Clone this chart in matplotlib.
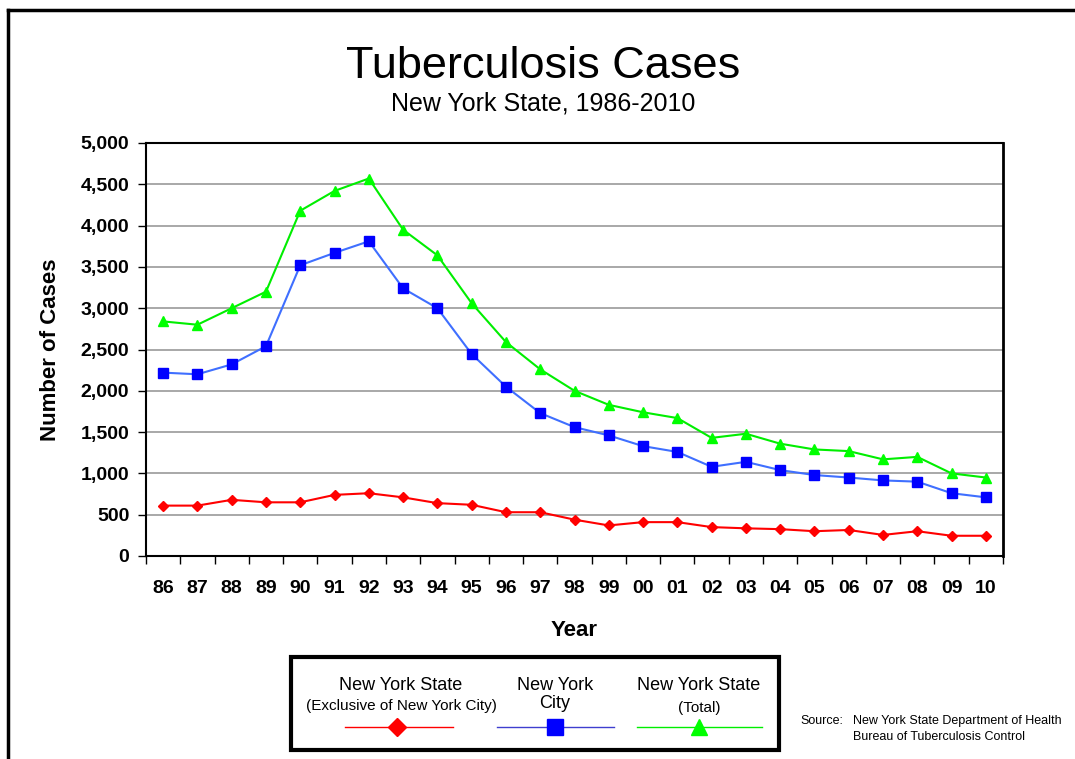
import numpy as np
import matplotlib
matplotlib.use('Agg')
import matplotlib.pyplot as plt
from matplotlib.lines import Line2D
from matplotlib.patches import Rectangle
from matplotlib.ticker import FuncFormatter

plt.rcParams['font.family'] = ['Liberation Sans', 'DejaVu Sans']

# Dados
anos = ['86', '87', '88', '89', '90', '91', '92', '93', '94', '95', '96', '97', '98',
        '99', '00', '01', '02', '03', '04', '05', '06', '07', '08', '09', '10']
nys_excl = [610, 610, 680, 650, 650, 740, 760, 710, 640, 620, 530, 530, 440,
            370, 410, 410, 350, 335, 325, 300, 315, 255, 300, 245, 245]
nyc = [2220, 2200, 2320, 2540, 3520, 3670, 3810, 3240, 3000, 2445, 2050, 1730, 1560,
       1460, 1330, 1260, 1080, 1140, 1040, 980, 950, 915, 900, 760, 710]
nys_total = [2840, 2800, 3000, 3200, 4180, 4420, 4570, 3950, 3640, 3060, 2590, 2260, 2000,
             1830, 1740, 1670, 1430, 1480, 1360, 1290, 1270, 1170, 1200, 1000, 950]

x = np.arange(len(anos))

fig = plt.figure(figsize=(10.75, 7.59), dpi=100)
ax = fig.add_axes([146 / 1075, 1 - 556 / 759, 857 / 1075, 413 / 759])

ax.plot(x, nys_excl, color='#FF0000', lw=1.5, marker='D', ms=5.5,
        mfc='#FF0000', mec='#FF0000', zorder=3)
ax.plot(x, nyc, color='#3F6FFF', lw=1.5, marker='s', ms=7.5,
        mfc='#0000FF', mec='#0000FF', zorder=3)
ax.plot(x, nys_total, color='#00EE00', lw=1.5, marker='^', ms=7.5,
        mfc='#00FF00', mec='#00FF00', zorder=3)

ax.set_xlim(-0.5, len(anos) - 0.5)
ax.set_ylim(0, 5000)
ax.set_yticks(np.arange(0, 5001, 500))
ax.yaxis.set_major_formatter(FuncFormatter(lambda v, p: f'{int(v):,}'))
ax.grid(axis='y', color='#999999', lw=1.2)
ax.set_axisbelow(True)

# ticks nas fronteiras das categorias, rótulos no centro
ax.set_xticks(np.arange(-0.5, len(anos), 1))
ax.set_xticklabels([])
ax.set_xticks(x, minor=True)
ax.set_xticklabels(anos, minor=True)
ax.tick_params(axis='x', which='major', length=6, width=1, direction='out')
ax.tick_params(axis='x', which='minor', length=0, pad=17, labelsize=14)
ax.tick_params(axis='y', length=6, width=1, direction='out', labelsize=14, pad=6)
for lab in ax.get_xticklabels(minor=True) + ax.get_yticklabels():
    lab.set_fontweight('bold')

for s in ax.spines.values():
    s.set_linewidth(1.5)
    s.set_color('black')
ax.spines['right'].set_linewidth(2)

ax.set_ylabel('Number of Cases', fontsize=16, fontweight='bold', labelpad=14)
ax.set_xlabel('Year', fontsize=16, fontweight='bold', labelpad=17)

fig.text(0.5055, 1 - 67 / 759, 'Tuberculosis Cases', ha='center', va='center', fontsize=32.5)
fig.text(0.5055, 1 - 104 / 759, 'New York State, 1986-2010', ha='center', va='center', fontsize=18)

# moldura externa
fig.add_artist(Line2D([8 / 1075, 8 / 1075], [0, 1 - 10 / 759], color='black', lw=2.5))
fig.add_artist(Line2D([8 / 1075, 1], [1 - 10 / 759, 1 - 10 / 759], color='black', lw=2.5))

# legenda desenhada à mão
fig.add_artist(Rectangle((291 / 1075, 1 - 750 / 759), 488 / 1075, 93 / 759,
                         transform=fig.transFigure, fill=False, ec='black', lw=3))

def px(xp, yp):
    return xp / 1075, 1 - yp / 759

entradas = [
    (401, 345, 453, '#FF0000', '#FF0000', 'D', 9, 'New York State', '(Exclusive of New York City)', 685, 706, 11),
    (555, 497, 614, '#3F3FCF', '#0000FF', 's', 11, 'New York', 'City', 685, 703, 13),
    (699, 637, 762, '#00EE00', '#00FF00', '^', 11, 'New York State', '(Total)', 686, 708, 11),
]
for cx, x0, x1, lc, mc, mk, ms, t1, t2, y1, y2, fs2 in entradas:
    xa, ya = px(x0, 727)
    xb, _ = px(x1, 727)
    fig.add_artist(Line2D([xa, xb], [ya, ya], color=lc, lw=1))
    xm, _ = px(cx - 4 if mk == 'D' else cx, 727)
    fig.add_artist(Line2D([xm], [ya], marker=mk, ms=ms, color=mc, mec=mc))
    fig.text(*px(cx, y1), t1, ha='center', va='center', fontsize=13)
    fig.text(*px(cx, y2), t2, ha='center', va='center', fontsize=fs2)

fig.text(*px(800, 721), 'Source:', ha='left', va='center', fontsize=9)
fig.text(*px(853, 721), 'New York State Department of Health', ha='left', va='center', fontsize=9)
fig.text(*px(853, 737), 'Bureau of Tuberculosis Control', ha='left', va='center', fontsize=9)

fig.savefig('out.png', dpi=100)
